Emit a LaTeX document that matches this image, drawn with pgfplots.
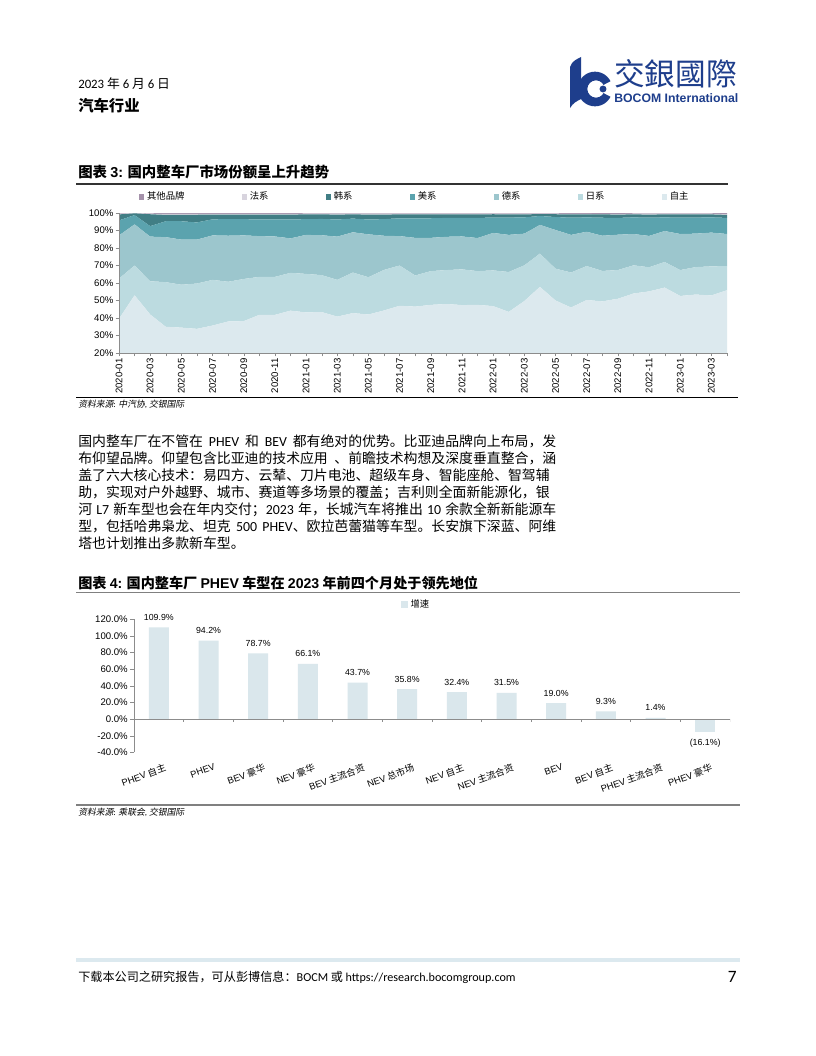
\documentclass[border=0pt]{standalone}
\usepackage{fontspec}
\usepackage{pgfplots}
\usepackage{pgfplotstable}
\pgfplotsset{compat=1.18}
\setmainfont{Noto Sans CJK SC}
\newfontfamily\lat{Carlito}
\newfontfamily\tah{Liberation Sans}
\newfontfamily\cjkit[FakeSlant=0.2]{Noto Sans CJK SC}
\XeTeXlinebreaklocale "zh"
\XeTeXlinebreakskip=0pt plus 2pt minus 0.3pt

\definecolor{czz}{HTML}{DCE9EE}
\definecolor{crx}{HTML}{BCDBE0}
\definecolor{cdx}{HTML}{9CC6CD}
\definecolor{cmx}{HTML}{5BA3AE}
\definecolor{chx}{HTML}{417E85}
\definecolor{cfx}{HTML}{D8D4DE}
\definecolor{cqt}{HTML}{A592AB}
\definecolor{barc}{HTML}{DAE7EC}
\definecolor{logo}{HTML}{1E3E8C}
\definecolor{foot}{HTML}{DCE9EF}

\pgfplotstableread{
i zz rx dx mx hx fx qt
0 39.5 23.0 24.7 8.6 3.4 0.4 0.4
1 53.0 17.0 23.5 5.3 1.0 0.1 0.1
2 42.0 19.0 25.5 6.0 6.8 0.3 0.4
3 35.0 25.5 25.7 9.1 3.6 0.6 0.5
4 34.5 24.5 25.8 10.5 3.7 0.5 0.5
5 33.8 25.9 25.1 9.8 4.4 0.5 0.5
6 35.7 26.1 25.4 9.2 2.7 0.4 0.5
7 38.0 22.7 26.3 9.5 2.6 0.4 0.5
8 38.2 24.1 24.9 9.3 2.6 0.4 0.5
9 41.8 21.7 23.3 9.5 2.8 0.4 0.5
10 41.8 21.7 23.1 9.7 2.8 0.4 0.5
11 44.2 21.6 19.7 10.8 2.8 0.4 0.5
12 43.2 22.0 22.3 9.0 2.7 0.4 0.4
13 43.4 21.1 22.8 9.3 2.6 0.4 0.4
14 40.8 21.0 24.7 9.8 2.8 0.5 0.4
15 42.8 23.2 23.0 7.8 2.4 0.4 0.4
16 42.0 21.3 24.5 8.5 2.8 0.5 0.4
17 44.3 23.2 19.5 9.5 2.6 0.5 0.4
18 47.0 23.0 16.8 10.2 2.2 0.4 0.4
19 46.5 17.8 21.5 11.2 2.2 0.4 0.4
20 47.5 19.3 19.0 11.2 2.2 0.4 0.4
21 48.0 19.4 19.0 10.8 2.0 0.4 0.4
22 47.4 20.4 18.8 10.6 2.0 0.4 0.4
23 47.5 19.3 18.9 11.5 2.0 0.4 0.4
24 46.8 20.4 21.4 8.8 1.9 0.3 0.4
25 43.5 22.8 21.2 9.9 1.8 0.4 0.4
26 49.7 20.4 18.1 9.3 1.7 0.4 0.4
27 57.8 19.0 16.4 5.1 1.1 0.3 0.3
28 50.0 18.2 22.1 7.4 1.6 0.3 0.4
29 46.0 20.0 21.5 9.8 1.9 0.3 0.5
30 50.3 19.4 19.6 8.2 1.7 0.3 0.5
31 49.5 17.4 20.1 10.3 1.9 0.1 0.7
32 51.0 16.4 20.2 9.6 1.9 0.2 0.7
33 54.0 16.1 17.9 9.5 1.7 0.4 0.4
34 55.2 13.8 17.9 10.4 1.8 0.5 0.4
35 57.4 14.6 17.7 7.8 1.7 0.4 0.4
36 52.6 14.8 20.6 9.3 1.9 0.4 0.4
37 53.4 15.7 19.1 9.2 1.8 0.4 0.4
38 52.9 16.6 19.3 8.7 1.7 0.4 0.4
39 55.9 13.8 18.3 9.2 1.7 0.4 0.7
}\share

\begin{document}
\begin{tikzpicture}
\fill[white] (0,0) rectangle (612pt,-792pt);
\begin{scope}[x=0.75pt,y=-0.75pt]
% ---------- header ----------
\node[anchor=base west,inner sep=0] at (78,89) {\fontsize{9.6}{10}\selectfont{\lat 2023} 年 {\lat 6} 月 {\lat 6} 日};
\node[anchor=base west,inner sep=0] at (78,112) {\fontsize{11.5}{13}\selectfont\bfseries 汽车行业};
% logo
\fill[logo] (570,67) .. controls (572,61) and (577,59) .. (581,57) -- (581,99) .. controls (577,101) and (573,103) .. (570,108) -- cycle;
\fill[logo,even odd rule] (595,89) circle (13pt) (596,89) circle (6.5pt);
\fill[white] (596,89) -- (615,79) -- (615,99) -- cycle;
\fill[logo] (603,89) circle (2.6pt);
\node[anchor=base west,inner sep=0,text=logo] at (614,85) {\fontsize{23}{24}\selectfont 交銀國際};
\node[anchor=base west,inner sep=0,text=logo] at (614,102.5) {\fontsize{9.2}{10}\selectfont\tah\bfseries BOCOM International};
% ---------- chart 3 title ----------
\node[anchor=base west,inner sep=0] at (78,177.5) {\fontsize{10.8}{12}\selectfont\bfseries 图表 {\tah 3:} 国内整车厂市场份额呈上升趋势};
\draw[black!80,line width=0.8pt] (76,184) -- (728,184);
\draw[black,line width=1pt] (76,397.5) -- (738,397.5);
\node[anchor=base west,inner sep=0] at (78,407.5) {\fontsize{6.6}{7}\selectfont\cjkit 资料来源{\lat :} 中汽协{\lat ,} 交银国际};
% ---------- body text ----------
\def\bodyfont{\fontsize{10.4}{12}\selectfont}
\node[anchor=base west,inner sep=0] at (78,446) {\bodyfont\hbox to 358.5pt{国内整车厂在不管在 {\lat PHEV} 和 {\lat BEV} 都有绝对的优势。比亚迪品牌向上布局，发}};
\node[anchor=base west,inner sep=0] at (78,463.1) {\bodyfont\hbox to 358.5pt{布仰望品牌。仰望包含比亚迪的技术应用 、前瞻技术构想及深度垂直整合，涵}};
\node[anchor=base west,inner sep=0] at (78,480.2) {\bodyfont\hbox to 358.5pt{盖了六大核心技术：易四方、云辇、刀片电池、超级车身、智能座舱、智驾辅}};
\node[anchor=base west,inner sep=0] at (78,497.3) {\bodyfont\hbox to 358.5pt{助，实现对户外越野、城市、赛道等多场景的覆盖；吉利则全面新能源化，银}};
\node[anchor=base west,inner sep=0] at (78,514.4) {\bodyfont\hbox to 358.5pt{河 {\lat L7} 新车型也会在年内交付；{\lat 2023} 年，长城汽车将推出 {\lat 10} 余款全新新能源车}};
\node[anchor=base west,inner sep=0] at (78,531.5) {\bodyfont\hbox to 358.5pt{型，包括哈弗枭龙、坦克 {\lat 500 PHEV}、欧拉芭蕾猫等车型。长安旗下深蓝、阿维}};
\node[anchor=base west,inner sep=0] at (78,548.6) {\bodyfont 塔也计划推出多款新车型。};
% ---------- chart 4 title ----------
\node[anchor=base west,inner sep=0] at (78,588.5) {\fontsize{10.6}{12}\selectfont\bfseries 图表 {\tah 4:} 国内整车厂 {\tah PHEV} 车型在 {\tah 2023} 年前四个月处于领先地位};
\draw[black!50,line width=1.1pt] (76,592.5) -- (740,592.5);
\draw[black!50,line width=1.6pt] (76,805) -- (740,805);
\node[anchor=base west,inner sep=0] at (78,815.5) {\fontsize{6.6}{7}\selectfont\cjkit 资料来源{\lat :} 乘联会{\lat ,} 交银国际};
% ---------- footer ----------
\fill[foot] (76,958) rectangle (740,962);
\node[anchor=base west,inner sep=0] at (78,981) {\fontsize{9.1}{10}\selectfont 下载本公司之研究报告，可从彭博信息：{\lat BOCM} 或 {\lat https://research.bocomgroup.com}};
\node[anchor=base east,inner sep=0] at (737,982) {\fontsize{13}{14}\selectfont\lat 7};
\end{scope}

% ---------- chart 3: stacked area ----------
\begin{axis}[
  at={(89.25pt,-264.75pt)}, anchor=south west,
  scale only axis, width=456pt, height=105pt,
  xmin=0, xmax=39, ymin=20, ymax=100,
  stack plots=y,
  axis on top,
  axis x line*=bottom, axis y line*=left,
  axis line style={draw=black!45,-},
  xtick={0,2,...,38}, minor xtick={1,3,...,39},
  xticklabels={2020-01,2020-03,2020-05,2020-07,2020-09,2020-11,2021-01,2021-03,2021-05,2021-07,2021-09,2021-11,2022-01,2022-03,2022-05,2022-07,2022-09,2022-11,2023-01,2023-03},
  xticklabel style={rotate=90, anchor=east, font=\tah\fontsize{7.2}{8}\selectfont, inner sep=1.5pt},
  tick align=outside, major tick length=2.5pt, minor tick length=2.5pt,
  tick style={draw=black!45},
  ytick={20,30,...,100},
  yticklabel={\pgfmathprintnumber{\tick}\%},
  yticklabel style={font=\tah\fontsize{7.2}{8}\selectfont, inner sep=1.5pt},
  /pgf/number format/assume math mode=true,
  reverse legend,
  legend columns=7,
  legend style={at={(0.487,1.115)}, anchor=center, draw=none, fill=none,
    font=\fontsize{7}{8}\selectfont, inner sep=0pt,
    /tikz/every even column/.append style={column sep=41pt}},
  legend image code/.code={\fill[#1] (0pt,-2pt) rectangle (4pt,2pt);},
]
\addplot[fill=czz, draw=none] table[x=i,y=zz]{\share} \closedcycle;
\addlegendentry{自主}
\addplot[fill=crx, draw=none] table[x=i,y=rx]{\share} \closedcycle;
\addlegendentry{日系}
\addplot[fill=cdx, draw=none] table[x=i,y=dx]{\share} \closedcycle;
\addlegendentry{德系}
\addplot[fill=cmx, draw=none] table[x=i,y=mx]{\share} \closedcycle;
\addlegendentry{美系}
\addplot[fill=chx, draw=none] table[x=i,y=hx]{\share} \closedcycle;
\addlegendentry{韩系}
\addplot[fill=cfx, draw=none] table[x=i,y=fx]{\share} \closedcycle;
\addlegendentry{法系}
\addplot[fill=cqt, draw=none] table[x=i,y=qt]{\share} \closedcycle;
\addlegendentry{其他品牌}
\end{axis}

% ---------- chart 4: bars ----------
\begin{axis}[
  at={(100.5pt,-564.3pt)}, anchor=south west,
  scale only axis, width=447pt, height=100pt,
  xmin=-0.5, xmax=11.5, ymin=-40, ymax=120,
  axis y line*=left, axis x line*=bottom,
  x axis line style={draw=none},
  y axis line style={draw=black!45,-},
  xtick={0,...,11},
  xticklabels={{{\tah PHEV} 自主},{\tah PHEV},{{\tah BEV} 豪华},{{\tah NEV} 豪华},{{\tah BEV} 主流合资},{{\tah NEV} 总市场},{{\tah NEV} 自主},{{\tah NEV} 主流合资},{\tah BEV},{{\tah BEV} 自主},{{\tah PHEV} 主流合资},{{\tah PHEV} 豪华}},
  xticklabel style={rotate=20, anchor=north east, font=\fontsize{7}{8}\selectfont, inner sep=1pt, xshift=3pt, yshift=-5pt},
  xtick style={draw=none},
  ytick={-40,-20,...,120},
  yticklabel={\pgfmathprintnumber[fixed,fixed zerofill,precision=1]{\tick}\%},
  yticklabel style={font=\tah\fontsize{7.2}{8}\selectfont, inner sep=1.5pt},
  /pgf/number format/assume math mode=true,
  tick align=outside, major tick length=3pt,
  ytick style={draw=black!45},
  ybar, bar width=15pt,
  nodes near coords, point meta=explicit symbolic,
  every node near coord/.append style={font=\tah\fontsize{6.6}{7}\selectfont, inner sep=5pt},
  legend style={at={(0.448,1.11)}, anchor=west, draw=none, fill=none,
    font=\fontsize{7}{8}\selectfont, inner sep=0pt},
  legend image code/.code={\fill[#1] (0pt,-2.5pt) rectangle (5pt,2.5pt);},
]
\addplot[fill=barc, draw=none, bar shift=0pt] coordinates {
(0,109.9) [109.9\%]
(1,94.2) [94.2\%]
(2,78.7) [78.7\%]
(3,66.1) [66.1\%]
(4,43.7) [43.7\%]
(5,35.8) [35.8\%]
(6,32.4) [32.4\%]
(7,31.5) [31.5\%]
(8,19.0) [19.0\%]
(9,9.3) [9.3\%]
(10,1.4) [1.4\%]
};
\addlegendentry{增速}
\addplot[fill=barc, draw=none, bar shift=0pt, forget plot, nodes near coords align={below}] coordinates {
(11,-16.1) [(16.1\%)]
};
\draw[black!45] (axis cs:-0.5,0) -- (axis cs:11.5,0);
\pgfplotsinvokeforeach{-0.5,0.5,...,11.5}{\draw[black!45] (axis cs:#1,0) -- (axis cs:#1,-3.5);}
\end{axis}
\end{tikzpicture}
\end{document}
